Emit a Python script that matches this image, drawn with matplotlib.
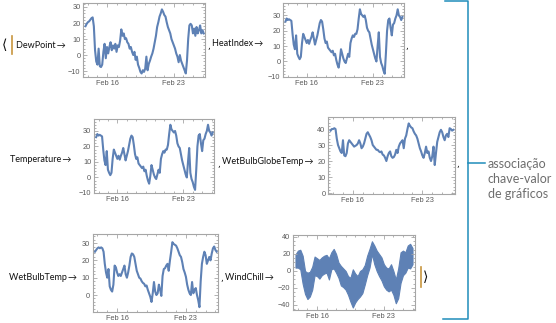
import numpy as np
import matplotlib.pyplot as plt
import matplotlib.dates as mdates
from matplotlib.lines import Line2D

W, H = 556, 323

# readings every 3 h from Feb 13 18:00 (wind chill envelope every 6 h)
start = np.datetime64('2015-02-13T18:00')
times = start + np.arange(100) * np.timedelta64(3, 'h')
wind_times = start + np.arange(50) * np.timedelta64(6, 'h')

dew_point = [
    18, 19.5, 20.5, 21, 22, 23, 23.5, 18, 3, -4,
    -6, 4, -7, -7.5, -6, 2, 7, -2, 5, 1,
    5, 8, 3, 6, 4, 7, 2, 6, 5, 9,
    16, 12, 13.5, 10, 10.5, 8, 7, 4, 5, 2,
    0, 2, -3, -1, -6, -8, -10.5, -11.5, -9.5, -10.5,
    -8.5, -1, -9.5, -5.5, -3.5, -1, 1, 4, 8, 12,
    17.5, 20.5, 24, 26, 28.5, 27, 25, 24, 20.5, 17.5,
    15.5, 13.5, 10, 8, 6, 4, 1, -1, -4.5, 0,
    -3.5, -5.5, -7.5, -9.5, -11.5, -3.5, 10, 18.5, 19.5, 18.5,
    13.5, 16.5, 12, 17.5, 13.5, 15.5, 18.5, 13.5, 15.5, 13.5,
]

temperature = [
    26, 28, 27, 27.5, 27, 26.5, 18, 11, 8, 17,
    5, 3, 1.5, 3, 12, 18, 16, 14, 12, 14,
    11.5, 14, 16, 19, 15, 11, 14, 17, 21, 25,
    27, 26, 21, 15, 12, 13, 9, 8, 7, 6,
    7, 4, 5, 1, -2, -4, 1, 8, 5, 2,
    0, -1, 2, 5, 3, 12, 15, 17, 16, 18,
    18, 21, 28, 34, 31, 30, 29, 30, 27, 22,
    20, 19, 15, 11, 8, 5, 2, 0, 10, 19,
    3, -1, -3, -6, -8, 5, 20, 27, 28, 22,
    17, 24, 25, 28, 30, 34, 30, 29, 27, 29,
]
# in this cold range the heat index equals the air temperature
heat_index = list(temperature)

wet_bulb_globe = [
    39, 40, 40, 40.5, 40, 34, 30, 28, 26, 25,
    33, 23.5, 23, 25, 31, 33, 32, 31, 30, 29,
    29.5, 30, 31, 33, 31, 28, 29, 31, 34, 37,
    38, 36.5, 35, 33, 30, 29, 28, 27, 27, 26,
    25.5, 26, 24, 23.5, 22, 20, 23, 25, 26, 23,
    22, 22.5, 24, 27, 25, 29, 31, 32, 33, 28,
    34, 36, 40, 43.5, 42, 41, 40.5, 38.5, 37, 36,
    34, 31, 28, 26, 23.5, 22, 25, 29, 25, 26,
    22, 20, 23, 29, 17.5, 25, 32, 35, 38, 39.5,
    38, 35, 33, 36, 37, 35, 40.5, 40, 39, 39.5,
]

wet_bulb = [
    25, 26, 27, 27.5, 27, 27.5, 27, 25, 18, 13,
    10, 15, 5, 3, 2, 6, 17, 16, 13, 11,
    12, 11, 13, 15, 17, 12, 10, 13, 17, 22,
    24, 23.5, 22, 18, 14, 12, 10, 9.5, 8, 7,
    6.5, 5, 5.5, 3, 1, -1, -4, 1, 7.5, 2,
    0, 1, 6, 3, -0.5, 11, 15, 15.5, 17, 18,
    14, 20, 25, 30.5, 29.5, 29, 28.5, 27, 25, 23,
    22, 19, 15, 13, 10.5, 6, 3, 1, 0, 7.5,
    1, 3, 4, 0, -3, -7, 8, 18, 22, 25,
    23, 18, 20, 22, 20, 24, 27, 28, 26, 25,
]

wind_chill_high = [
    19.5, 24, 25, 18, 0, -2, -1, 5, 17, 15,
    13, 16, 18, 19, 15, 22, 26, 20, 10, 6,
    3, 0, -6, -8, 2, -3, -6, 0, 2, 7,
    18, 26, 35, 30, 24, 20, 16, 8, 4, 3,
    8, 0, -10, 3, 22, 24, 22, 30, 32, 27,
]
wind_chill_low = [
    4, 4, 2, -15, -27, -33, -30, -22, -5, -6,
    -9, -5, -3, -2, -10, 2, 3, -2, -8, -17,
    -19, -22, -28, -36, -43, -37, -33, -30, -26, -16,
    -5, 4, 20, 8, 0, -6, -11, -18, -22, -24,
    -22, -28, -38, -32, -14, -5, -2, 4, 3, 8,
]

date_ticks = ['2015-02-16', '2015-02-23']
date_tick_labels = ['Feb 16', 'Feb 23']

line_color = '#5e81b5'
frame_color = '#a6a6a6'
tick_text = '#5a5a5a'
key_font = ['Lato', 'DejaVu Sans']


def px(x, y):
    return x / W, 1 - y / H


def frame_axes(fig, x0, y0, x1, y1, ylim, yticks, yminor):
    ax = fig.add_axes([x0 / W, 1 - y1 / H, (x1 - x0) / W, (y1 - y0) / H])
    ax.set_xlim(np.datetime64('2015-02-13T12:30'), np.datetime64('2015-02-26T07:00'))
    ax.set_ylim(*ylim)
    ax.set_xticks([np.datetime64(d) for d in date_ticks])
    ax.set_xticklabels(date_tick_labels)
    ax.xaxis.set_minor_locator(mdates.DayLocator())
    ax.set_yticks(yticks)
    ax.yaxis.set_minor_locator(plt.MultipleLocator(yminor))
    for s in ax.spines.values():
        s.set_color(frame_color)
        s.set_linewidth(0.8)
    ax.tick_params(which='both', direction='in', top=True, right=True,
                   color=frame_color, width=0.6)
    ax.tick_params(which='major', length=3, pad=2, labelsize=5.3,
                   labelcolor=tick_text)
    ax.tick_params(which='minor', length=1.6)
    for lab in ax.get_xticklabels() + ax.get_yticklabels():
        lab.set_family('Liberation Sans')
    return ax


fig = plt.figure(figsize=(W / 100, H / 100), dpi=100)

ax = frame_axes(fig, 83.3, 3.3, 205.3, 77.3, (-13.9, 32.3), [-10, 0, 10, 20, 30], 2)
ax.plot(times, dew_point, color=line_color, lw=1.5)

ax = frame_axes(fig, 283.3, 3.3, 404, 77.3, (-10.3, 37.9), [-10, 0, 10, 20, 30], 2)
ax.plot(times, heat_index, color=line_color, lw=1.5)

ax = frame_axes(fig, 94, 119, 214.3, 193.3, (-10.2, 37.7), [-10, 0, 10, 20, 30], 2)
ax.plot(times, temperature, color=line_color, lw=1.5)

ax = frame_axes(fig, 328.3, 116.7, 455, 194, (-0.6, 47.7), [0, 10, 20, 30, 40], 2)
ax.plot(times, wet_bulb_globe, color=line_color, lw=1.5)

ax = frame_axes(fig, 92.7, 233.7, 218.3, 312, (-9.8, 35.4), [0, 10, 20, 30], 2)
ax.plot(times, wet_bulb, color=line_color, lw=1.5)

ax = frame_axes(fig, 293.3, 235.3, 415.3, 310, (-45.9, 42), [-40, -20, 0, 20, 40], 5)
ax.fill_between(wind_times, wind_chill_low, wind_chill_high, color=line_color,
                lw=0.8, edgecolor=line_color)

# association keys
keys = [
    (16, 45, 'DewPoint\u2009\u2192'),
    (212, 44, 'HeatIndex\u2009\u2192'),
    (10, 160, 'Temperature\u2009\u2192'),
    (222, 162, 'WetBulbGlobeTemp\u2009\u2192'),
    (9, 277, 'WetBulbTemp\u2009\u2192'),
    (225, 277, 'WindChill\u2009\u2192'),
]
for x, y, s in keys:
    fig.text(*px(x, y), s, ha='left', va='center', fontsize=6.5,
             family=key_font, color='#111111')

# separators between the rules
for x, y in [(207, 46), (405, 46), (217, 164), (456, 164), (220.5, 279)]:
    fig.text(*px(x, y), ',', ha='left', va='center', fontsize=6.5,
             family=['DejaVu Sans'], color='#111111')
for x, y, s in [(2, 45, '\u27e8'), (423, 277, '\u27e9')]:
    fig.text(*px(x, y), s, ha='left', va='center', fontsize=10,
             family=['DejaVu Sans'], color='#111111')

bar_color = '#c8963e'
for x, y0, y1 in [(11.5, 36, 54), (420.5, 267, 287)]:
    fig.add_artist(Line2D([x / W, x / W], [1 - y0 / H, 1 - y1 / H],
                          color=bar_color, lw=1.2))

# bracket on the right with its caption
bracket = '#1f8dbb'
fig.add_artist(Line2D([445 / W, 468.3 / W, 468.3 / W, 443 / W],
                      [1 - 0.6 / H, 1 - 0.6 / H, 1 - 319 / H, 1 - 319 / H],
                      color=bracket, lw=1.1))
fig.add_artist(Line2D([468.3 / W, 485 / W], [1 - 163 / H, 1 - 163 / H],
                      color=bracket, lw=1.1))
for y, s in [(164, 'associação'), (179, 'chave-valor'), (194, 'de gráficos')]:
    fig.text(*px(488, y), s, ha='left', va='center', fontsize=9.0,
             family=key_font, color='#6e6e6e')

fig.savefig('out.png', dpi=100)
